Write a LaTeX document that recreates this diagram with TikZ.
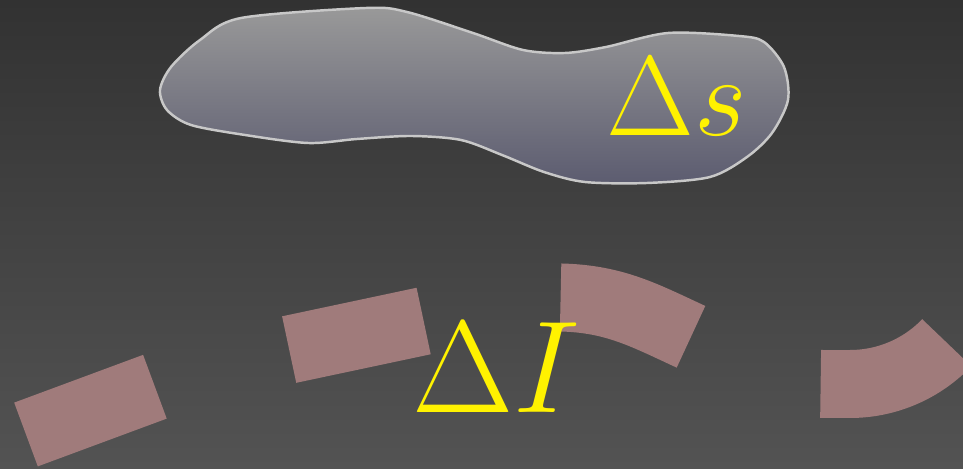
\documentclass[tikz,border=0pt]{standalone}
\usepackage{amsmath}

\definecolor{bgtop}{RGB}{50,50,50}
\definecolor{bgbot}{RGB}{83,83,83}
\definecolor{blobtop}{RGB}{153,153,153}
\definecolor{blobbot}{RGB}{92,92,112}
\definecolor{blobline}{RGB}{200,200,200}
\definecolor{dashcol}{RGB}{160,123,123}

\begin{document}
\begin{tikzpicture}[
  x=0.02cm,
  y=0.02cm,
  backdrop/.style={top color=bgtop, bottom color=bgbot, draw=none},
  blob/.style={top color=blobtop, bottom color=blobbot, draw=blobline, line width=1.4pt},
  dashline/.style={draw=dashcol, line width=1.36cm, dash pattern=on 2.75cm off 2.79cm},
  lbl/.style={text=yellow, font=\Huge, inner sep=0pt, anchor=base west, transform shape}
]

% frame and background, pixel units (963 x 469)
\path[use as bounding box] (0,0) rectangle (963,469);
\clip (0,0) rectangle (963,469);
\path[backdrop] (0,0) rectangle (963,469);

% the region
\path[blob] plot[smooth cycle] coordinates {
  (241,451) (366,461) (407,457) (473,436) (523,419) (565,416) (606,422)
  (668,436) (739,433) (764,427) (784,402) (788,369) (772,336) (747,312)
  (710,292) (647,286) (585,287) (544,297) (502,314) (461,329) (411,333)
  (357,330) (308,326) (245,334) (191,344) (167,359) (160,379) (171,402)
  (200,429)};
\node[lbl, scale=2.6] (ds) at (606,333) {$\Delta s$};

% the dashed curve
\draw[dashline] (26,34.5) -- (155,82.3)
  to[out=20.4, in=192] (289.5,119.5) -- (424.7,148.2)
  to[out=12, in=178.3] (561.7,171.5)
  to[out=-1.7, in=155.2] (692.5,131.5)
  to[out=-24.8, in=180] (823,85) -- (850,85)
  arc[start angle=-90, end angle=-43, radius=134] -- ++(47:30);
\node[lbl, scale=3.0] (dI) at (411,56) {$\Delta I$};

\end{tikzpicture}
\end{document}
